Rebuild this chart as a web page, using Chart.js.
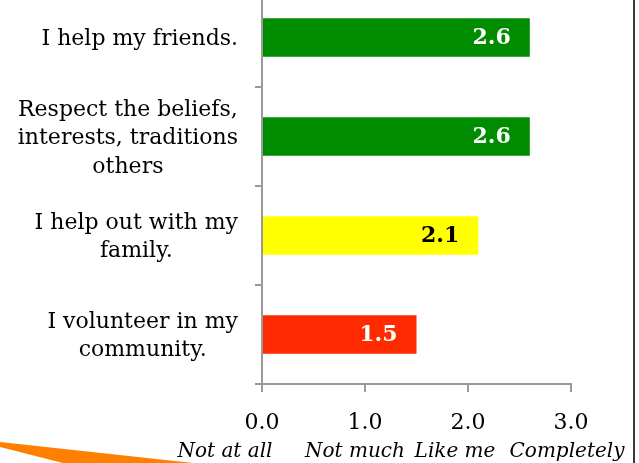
<!DOCTYPE html>
<html>
<head>
<meta charset="utf-8">
<script src="https://cdn.jsdelivr.net/npm/chart.js@4.4.0/dist/chart.umd.min.js"></script>
<style>
html, body { margin: 0; padding: 0; background: #fff; overflow: hidden; }
#wrap { position: relative; width: 639px; height: 463px; overflow: hidden; }
#wrap canvas { position: absolute; left: 0; top: -12px; }
#edge { position: absolute; left: 633px; top: 0; width: 2px; height: 463px; background: #3a3a3a; }
#arrow { position: absolute; left: 0; top: 442px; width: 200px; height: 21px; background: #ff8000;
  clip-path: polygon(0 0, 193px 21px, 63px 21px, 0 5px); }
</style>
</head>
<body>
<div id="wrap">
  <canvas id="chart" width="639" height="475"></canvas>
  <div id="edge"></div>
  <div id="arrow"></div>
</div>
<script>
var categories = [
    ["I help my friends."],
    ["Respect the beliefs,", "interests, traditions", "others"],
    ["I help out with my", "family."],
    ["I volunteer in my", "community."]
];
var scores = [2.6, 2.6, 2.1, 1.5];
var tickValues = [0, 1, 2, 3];
var tickWords = ["Not at all", "Not much", "Like me", "Completely"];
var barColors = ['#008c00', '#008c00', '#ffff00', '#ff2a00'];
var valueColors = ['#ffffff', '#ffffff', '#000000', '#ffffff'];

var axisGray = '#9a9a9a';
var wordShift = [-37, -10, -13, -4]; // the word row sits a bit left of each tick

// draws the value inside each bar, the category text and the word row under the ticks
var labelPlugin = {
    id: 'labelPlugin',
    afterDatasetsDraw: function(chart) {
        var ctx = chart.ctx;
        var meta = chart.getDatasetMeta(0);
        ctx.save();
        ctx.font = 'bold 22px "DejaVu Serif"';
        ctx.textAlign = 'right';
        ctx.textBaseline = 'middle';
        meta.data.forEach(function(bar, i) {
            ctx.fillStyle = valueColors[i];
            ctx.fillText(scores[i].toFixed(1), bar.x - 19, bar.y + 1);
        });

        var yScale = chart.scales.y;
        var rightEdge = yScale.right - 24;
        var lineGap = 28.5;
        ctx.font = '22px "DejaVu Serif"';
        ctx.fillStyle = '#000';
        ctx.textAlign = 'center';
        categories.forEach(function(lines, i) {
            let y = yScale.getPixelForValue(i);
            let widest = 0;
            lines.forEach(function(l) { widest = Math.max(widest, ctx.measureText(l).width); });
            let cx = rightEdge - widest / 2;
            let y0 = y - (lines.length - 1) * lineGap / 2;
            lines.forEach(function(l, k) {
                ctx.fillText(l, cx, y0 + k * lineGap + 2);
            });
        });

        var xScale = chart.scales.x;
        ctx.font = 'italic 20px "DejaVu Serif"';
        tickWords.forEach(function(w, i) {
            ctx.fillText(w, xScale.getPixelForValue(tickValues[i]) + wordShift[i], xScale.top + 68);
        });
        ctx.restore();
    }
};

new Chart(document.getElementById('chart').getContext('2d'), {
    type: 'bar',
    data: {
        labels: categories,
        datasets: [{
            data: scores,
            backgroundColor: barColors,
            borderWidth: 0,
            categoryPercentage: 1,
            barPercentage: 0.39
        }]
    },
    options: {
        indexAxis: 'y',
        responsive: false,
        animation: false,
        layout: { padding: { left: 0, right: 68, top: 0, bottom: 0 } },
        plugins: { legend: { display: false }, tooltip: { enabled: false } },
        scales: {
            y: {
                ticks: { display: false },
                grid: { drawOnChartArea: false, tickLength: 7, color: axisGray, lineWidth: 2 },
                border: { display: true, color: axisGray, width: 2 },
                afterFit: function(scale) { scale.width = 262; }
            },
            x: {
                type: 'linear',
                position: 'bottom',
                min: 0,
                max: 3,
                ticks: {
                    stepSize: 1,
                    padding: 18,
                    color: '#000',
                    maxRotation: 0,
                    minRotation: 0,
                    autoSkip: false,
                    font: { family: 'DejaVu Serif', size: 22 },
                    callback: function(v) { return v.toFixed(1); }
                },
                grid: { drawOnChartArea: false, tickLength: 8, color: axisGray, lineWidth: 2 },
                border: { display: true, color: axisGray, width: 2 },
                afterFit: function(scale) { scale.height = 79; }
            }
        }
    },
    plugins: [labelPlugin]
});
</script>
</body>
</html>
